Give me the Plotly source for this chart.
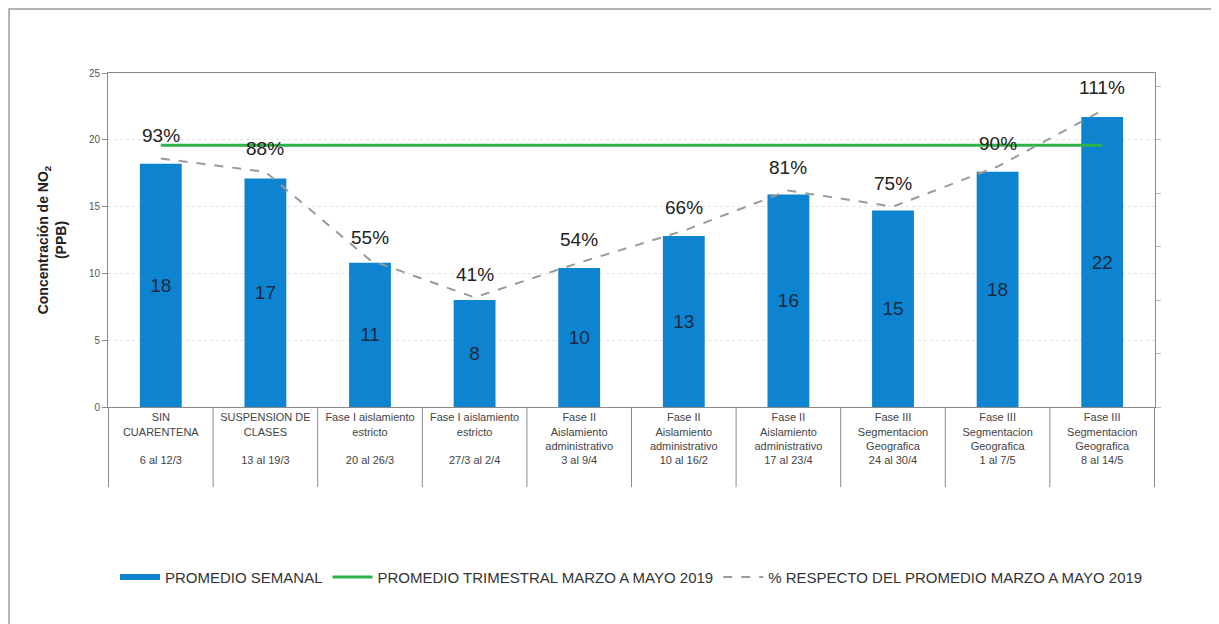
import plotly.graph_objects as go

categories = [
    "SIN<br>CUARENTENA<br><br>6 al 12/3",
    "SUSPENSION DE<br>CLASES<br><br>13 al 19/3",
    "Fase I aislamiento<br>estricto<br><br>20 al 26/3",
    "Fase I aislamiento<br>estricto<br><br>27/3 al 2/4",
    "Fase II<br>Aislamiento<br>administrativo<br>3 al 9/4",
    "Fase II<br>Aislamiento<br>administrativo<br>10 al 16/2",
    "Fase II<br>Aislamiento<br>administrativo<br>17 al 23/4",
    "Fase III<br>Segmentacion<br>Geografica<br>24 al 30/4",
    "Fase III<br>Segmentacion<br>Geografica<br>1 al 7/5",
    "Fase III<br>Segmentacion<br>Geografica<br>8 al 14/5",
]
promedio_semanal = [18.2, 17.1, 10.8, 8.0, 10.4, 12.8, 15.9, 14.7, 17.6, 21.7]
promedio_trimestral = [19.6] * 10
porcentaje = [93, 88, 55, 41, 54, 66, 81, 75, 90, 111]
pct_labels = [f"{p}%" for p in porcentaje]

FONT = "Arial, Liberation Sans, sans-serif"
BLUE = "#0e84d0"
GREEN = "#2db34a"
GRAY = "#9a9a9a"

fig = go.Figure()

fig.add_trace(go.Bar(
    x=categories, y=promedio_semanal, width=0.4,
    marker=dict(color=BLUE, line=dict(width=0)),
    texttemplate="%{y:.0f}", textposition="inside", insidetextanchor="middle",
    textfont=dict(size=19, color="#1b2a44", family=FONT),
    showlegend=False, name="PROMEDIO SEMANAL",
))
# legend entry for bars (thick line symbol)
fig.add_trace(go.Scatter(
    x=[None], y=[None], mode="lines", name="PROMEDIO SEMANAL",
    line=dict(color=BLUE, width=6),
))
fig.add_trace(go.Scatter(
    x=categories, y=promedio_trimestral, mode="lines",
    name="PROMEDIO TRIMESTRAL MARZO A MAYO 2019",
    line=dict(color=GREEN, width=3),
))
fig.add_trace(go.Scatter(
    x=categories, y=porcentaje, yaxis="y2", mode="lines",
    name="% RESPECTO DEL PROMEDIO MARZO A MAYO 2019",
    line=dict(color=GRAY, width=2, dash="dash"),
))

annotations = [
    dict(x=c, y=p, xref="x", yref="y2", text=t, showarrow=False,
         yanchor="middle", yshift=23,
         font=dict(size=19, color="#222222", family=FONT))
    for c, p, t in zip(categories, porcentaje, pct_labels)
]

shapes = []
for i in range(len(categories) + 1):
    shapes.append(dict(
        type="line", xref="x", yref="paper",
        x0=i - 0.5, x1=i - 0.5, y0=0, y1=-0.24,
        line=dict(color="#8a8a8a", width=1),
    ))
# outer frame
shapes.append(dict(
    type="rect", xref="paper", yref="paper",
    x0=-0.0945, x1=1.2, y0=-0.9, y1=1.1916,
    line=dict(color="#9a9a9a", width=1.5), layer="below",
))

fig.update_layout(
    width=1211, height=616,
    margin=dict(l=100, r=64, t=65, b=217),
    paper_bgcolor="white", plot_bgcolor="white",
    font=dict(family=FONT, color="#333333"),
    xaxis=dict(
        showline=True, linecolor="#8a8a8a", linewidth=1, mirror=True,
        ticks="", tickfont=dict(size=11, color="#444444", family=FONT),
        showgrid=False,
    ),
    yaxis=dict(
        range=[0, 25], dtick=5, showline=True, linecolor="#8a8a8a", linewidth=1,
        ticks="outside", ticklen=5, tickcolor="#8a8a8a",
        tickfont=dict(size=10, color="#555555", family=FONT),
        showgrid=True, gridcolor="#e2e2e2", griddash="dot", zeroline=False,
        title=dict(text="<b>Concentración de NO<sub>2</sub><br>(PPB)</b>",
                   font=dict(size=14, color="#222222", family=FONT), standoff=18),
    ),
    yaxis2=dict(
        range=[0, 125], dtick=20, overlaying="y", side="right",
        showline=True, linecolor="#8a8a8a", linewidth=1,
        ticks="outside", ticklen=5, tickcolor="#bbbbbb",
        showticklabels=False, showgrid=False, zeroline=False,
    ),
    legend=dict(
        orientation="h", x=0.5, xanchor="center", y=-0.51, yanchor="middle",
        font=dict(size=15, color="#333333", family=FONT),
        itemwidth=40, traceorder="normal",
    ),
    shapes=shapes,
    annotations=annotations,
)

fig.write_html("out.html")
